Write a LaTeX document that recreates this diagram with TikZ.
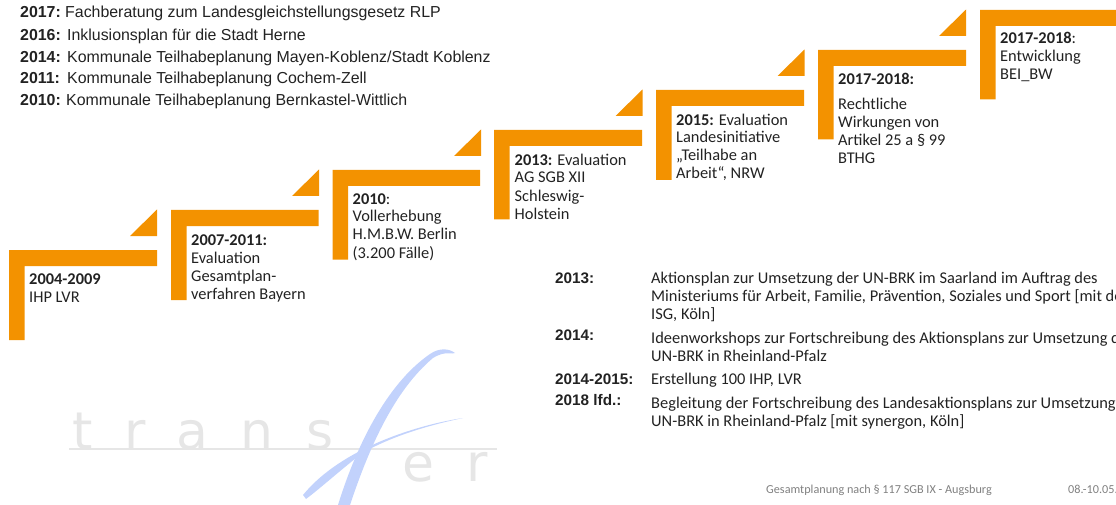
\documentclass[tikz,border=0pt]{standalone}
\usepackage{fontspec}
\setmainfont{Carlito}
\newfontfamily\arialf{Liberation Sans}
\newfontfamily\logof{DejaVu Sans}
\definecolor{accent}{HTML}{F39200}
\definecolor{ink}{HTML}{222222}
\definecolor{logogray}{HTML}{E6E6E6}
\definecolor{logoblue}{HTML}{C2D2FC}
\tikzset{
  x=1pt,y=-1pt,
  bar/.style={fill=accent,draw=none},
  stepnote/.style={anchor=base west,inner sep=0pt,align=left,text=ink,font=\fontsize{16.4}{18}\selectfont},
  listline/.style={anchor=base west,inner sep=0pt,text=ink,font=\arialf\fontsize{15.9}{18}\selectfont},
  yearlabel/.style={anchor=base west,inner sep=0pt,text=ink,font=\arialf\bfseries\fontsize{15.9}{18}\selectfont},
  sideyear/.style={anchor=base west,inner sep=0pt,text=ink,font=\arialf\bfseries\fontsize{15.3}{18}\selectfont},
  foot/.style={anchor=base west,inner sep=0pt,text=gray,font=\fontsize{12.2}{14}\selectfont},
  logoletter/.style={anchor=base,inner sep=0pt,text=logogray,font=\logof\fontsize{52}{60}\selectfont},
}
\newcommand{\stepbracket}[4]{% x, y, x-end, y-end
  \fill[bar] (#1,#2) -- (#3,#2) -- (#3,#2+16) -- (#1+15.5,#2+16) -- (#1+15.5,#4) -- (#1,#4) -- cycle;}
\newcommand{\steptri}[2]{% right, top
  \fill[bar] (#1,#2) -- (#1,#2+26.5) -- (#1-27,#2+26.5) -- cycle;}
\begin{document}
\begin{tikzpicture}
\useasboundingbox (0,0) rectangle (1116,505);
\clip (0,0) rectangle (1116,505);
% logo
\draw[logogray,line width=2.2pt] (69,449) -- (497,449);
\node[logoletter] (lt) at (83,449) {t};
\node[logoletter] (lr) at (135,449) {r};
\node[logoletter] (la) at (192,449) {a};
\node[logoletter] (ln) at (257,449) {n};
\node[logoletter] (ls) at (320,449) {s};
\node[logoletter] (le) at (418,481) {e};
\node[logoletter] (lr2) at (477,481) {r};
\fill[logoblue] (303,495) .. controls (320,474) and (345,458) .. (368,447) .. controls (395,434) and (430,423) .. (463,418) .. controls (430,425) and (395,435) .. (364,452) .. controls (345,466) and (322,487) .. (306,499) -- cycle;
\fill[logoblue] (338,505) .. controls (355,450) and (385,385) .. (430,354) .. controls (440,347) and (450,349) .. (455,353) .. controls (452,355) and (446,350) .. (433,358) .. controls (395,390) and (370,445) .. (350,505) -- cycle;
% steps
\stepbracket{9}{250}{157}{340}
\stepbracket{171}{210}{318.5}{300}
\stepbracket{332.5}{170}{480}{259.5}
\stepbracket{494}{130}{642}{219.5}
\stepbracket{656}{90}{804}{180}
\stepbracket{818}{50}{966}{139.5}
\stepbracket{980}{10}{1120}{99.5}
\steptri{157}{209.5}
\steptri{319}{169.5}
\steptri{481}{129.5}
\steptri{642.5}{89.5}
\steptri{804.5}{49.5}
\steptri{966}{9.5}
\node[stepnote] (s1) at (29,302) {\textbf{2004-2009}\\IHP LVR};
\node[stepnote] (s2) at (191,299) {\textbf{2007-2011:}\\Evaluation\\Gesamtplan-\\verfahren Bayern};
\node[stepnote] (s3) at (352.5,258) {\textbf{2010}:\\Vollerhebung\\H.M.B.W. Berlin\\(3.200 Fälle)};
\node[stepnote] (s4) at (514.5,219) {\textbf{2013:} Evaluation\\AG SGB XII\\Schleswig-\\Holstein};
\node[stepnote] (s5) at (676,179) {\textbf{2015:} Evaluation\\Landesinitiative\\„Teilhabe an\\Arbeit“, NRW};
\node[stepnote] (s6) at (838,164) {\textbf{2017-2018:}\\[7pt]Rechtliche\\Wirkungen von\\Artikel 25 a § 99\\BTHG};
\node[stepnote] (s7) at (1000,80) {\textbf{2017-2018}:\\Entwicklung\\BEI\_BW};
% top list
\node[yearlabel] (y1) at (20,18) {2017:};
\node[listline] (t1) at (65,18) {Fachberatung zum Landesgleichstellungsgesetz RLP};
\node[yearlabel] (y2) at (20,41) {2016:};
\node[listline] (t2) at (67,41) {Inklusionsplan für die Stadt Herne};
\node[yearlabel] (y3) at (20,63) {2014:};
\node[listline] (t3) at (67,63) {Kommunale Teilhabeplanung Mayen-Koblenz/Stadt Koblenz};
\node[yearlabel] (y4) at (20,84) {2011:};
\node[listline] (t4) at (67,84) {Kommunale Teilhabeplanung Cochem-Zell};
\node[yearlabel] (y5) at (20,106) {2010:};
\node[listline] (t5) at (66,106) {Kommunale Teilhabeplanung Bernkastel-Wittlich};
% right list
\node[sideyear] (r1) at (555,283) {2013:};
\node[stepnote] (rt1) at (651,319) {Aktionsplan zur Umsetzung der UN-BRK im Saarland im Auftrag des\\Ministeriums für Arbeit, Familie, Prävention, Soziales und Sport [mit de\\ISG, Köln]};
\node[sideyear] (r2) at (555,340) {2014:};
\node[stepnote] (rt2) at (651,361) {Ideenworkshops zur Fortschreibung des Aktionsplans zur Umsetzung d\\UN-BRK in Rheinland-Pfalz};
\node[sideyear] (r3) at (555,384) {2014-2015:};
\node[stepnote] (rt3) at (651,384) {Erstellung 100 IHP, LVR};
\node[sideyear] (r4) at (555,405) {2018 lfd.:};
\node[stepnote] (rt4) at (651,426) {Begleitung der Fortschreibung des Landesaktionsplans zur Umsetzung\\UN-BRK in Rheinland-Pfalz [mit synergon, Köln]};
% footer
\node[foot] (f1) at (766,493) {Gesamtplanung nach § 117 SGB IX - Augsburg};
\node[foot] (f2) at (1068,493) {08.-10.05.};
\end{tikzpicture}
\end{document}
